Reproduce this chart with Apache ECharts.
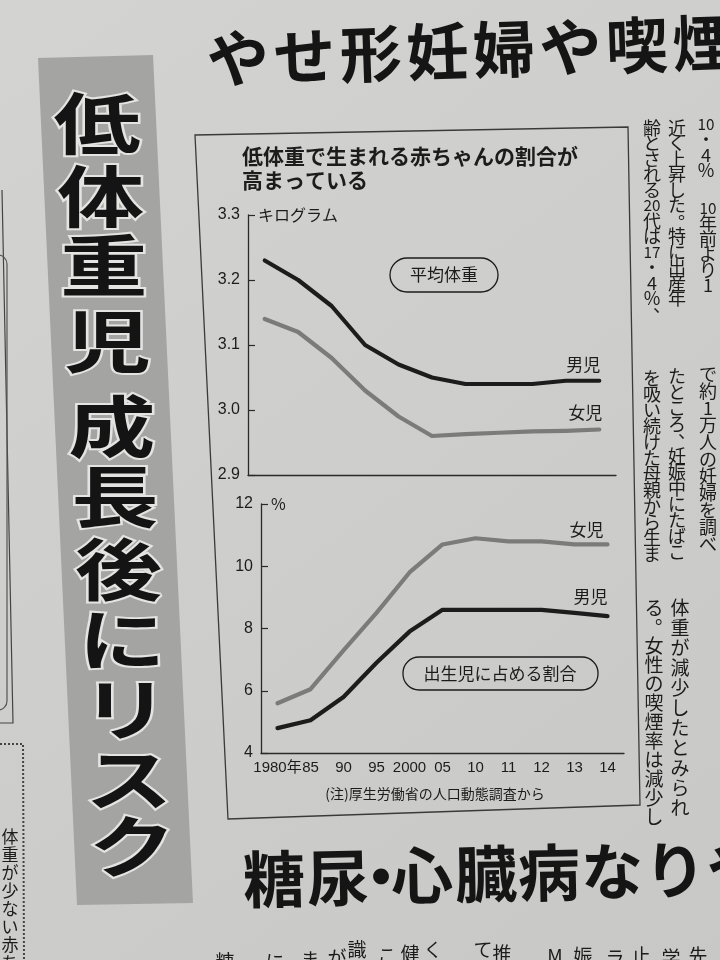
<!DOCTYPE html>
<html><head><meta charset="utf-8">
<script src="https://cdn.jsdelivr.net/npm/echarts@6.0.0/dist/echarts.min.js"></script>
<style>html,body{margin:0;padding:0;background:#cfcfcd}#c{width:720px;height:960px}</style>
</head><body><div id="c"></div>
<script>
// ---- data ----
const categories = ['1980年', '85', '90', '95', '2000', '05', '10', '11', '12', '13', '14'];
const weightBoys  = [3.23, 3.20, 3.16, 3.10, 3.07, 3.05, 3.04, 3.04, 3.04, 3.045, 3.045];
const weightGirls = [3.14, 3.12, 3.08, 3.03, 2.99, 2.96, 2.963, 2.965, 2.967, 2.968, 2.97];
const lbwBoys  = [4.8, 5.05, 5.8, 6.9, 7.9, 8.6, 8.6, 8.6, 8.6, 8.5, 8.4];
const lbwGirls = [5.6, 6.05, 7.3, 8.5, 9.8, 10.7, 10.9, 10.8, 10.8, 10.7, 10.7];
const weightTicks = {min: 2.9, max: 3.3, step: 0.1};
const pctTicks = {min: 4, max: 12, step: 2};
const seriesNames = {boys: '男児', girls: '女児'};

// ---- styling ----
const INK = '#1c1c1c';
const GRAYLINE = '#7b7b79';
const FONT_NUM = "'Liberation Sans Narrow','Liberation Sans','Noto Sans CJK JP',sans-serif";
const FONT_JP = "'Noto Sans CJK JP','Noto Sans',sans-serif";

const chart = echarts.init(document.getElementById('c'), null, {renderer: 'canvas', width: 720, height: 960});

function xAxisCfg(gridIndex, showLabel) {
  return {
    type: 'category', gridIndex, data: categories, boundaryGap: true,
    axisLine: {lineStyle: {color: '#2a2a2a', width: 1.3}},
    axisTick: {inside: true, length: 5, alignWithLabel: true, lineStyle: {color: '#2a2a2a', width: 1.2}},
    axisLabel: {show: showLabel, fontFamily: FONT_NUM, fontSize: 15, color: INK, margin: 7, interval: 0},
    splitLine: {show: false}
  };
}
function yAxisCfg(gridIndex, t, unit, decimals) {
  return {
    type: 'value', gridIndex, min: t.min, max: t.max, interval: t.step,
    name: unit, nameLocation: 'end', nameGap: 0,
    nameTextStyle: {align: 'left', verticalAlign: 'middle', padding: [0, 0, 0, 10], fontFamily: FONT_JP, fontSize: 16, color: INK},
    axisLine: {show: true, lineStyle: {color: '#2a2a2a', width: 1.3}},
    axisTick: {show: true, inside: true, length: 7, lineStyle: {color: '#2a2a2a', width: 1.2}},
    axisLabel: {fontFamily: FONT_NUM, fontSize: 16, color: INK, margin: 8,
      formatter: v => decimals ? v.toFixed(decimals) : String(Math.round(v))},
    splitLine: {show: false}
  };
}
function lineSeries(name, data, xi, color, lab) {
  return {
    name, type: 'line', xAxisIndex: xi, yAxisIndex: xi, data,
    symbol: 'none', smooth: false, z: 3,
    lineStyle: {color, width: 4.2, cap: 'round', join: 'round'},
    endLabel: {show: true, formatter: name, align: 'right', verticalAlign: 'bottom', distance: 0,
      offset: lab, fontFamily: FONT_JP, fontSize: 17, color: INK}
  };
}

// ---- decorative newspaper elements ----
const g = [];
function txt(t, x, y, size, opt) {
  opt = opt || {};
  g.push(Object.assign({type: 'text', x, y, silent: true,
    style: Object.assign({text: t, fontSize: size, fontFamily: FONT_JP, fill: INK, align: 'left', verticalAlign: 'middle'}, opt.style || {})},
    opt.el || {}));
}
function vText(str, cx, y0, pitch, size) {
  const toks = str.match(/[0-9]{2}|./gu);
  let y = y0;
  for (const t of toks) {
    if (t === '　') { y += pitch; continue; }
    let dx = 0, dy = 0, fs = size;
    if (t === '、' || t === '。') { dx = size * 0.55; dy = -size * 0.5; }
    if (/^[0-9]{2}$/.test(t)) fs = size * 0.85;
    txt(t, cx + dx, y + pitch / 2 + dy, fs, {style: {align: 'center'}});
    y += pitch;
  }
}

// top headline
'やせ形妊婦や喫煙'.split('').forEach((c, i) => {
  txt(c, 238 + i * 66.5, 58 - i * 2.2, 62, {style: {align: 'center', fontWeight: 'bold', fill: '#151515'}, el: {rotation: 0.035}});
});

// gray band with vertical headline
g.push({type: 'polygon', silent: true, shape: {points: [[38, 58], [153, 55], [193, 903], [77, 905]]},
  style: {fill: '#a4a4a2'}});
const bandChars = [['低', 124], ['体', 197], ['重', 266], ['児', 342], ['成', 427], ['長', 497], ['後', 570], ['に', 640], ['リ', 710], ['ス', 780], ['ク', 847]];
bandChars.forEach(([c, cy]) => {
  const cx = 97 + (cy - 124) * 0.0485;
  g.push({type: 'text', x: cx, y: cy, scaleX: 1.3, silent: true,
    style: {text: c, fontSize: 67, fontWeight: 'bold', fontFamily: FONT_JP, fill: '#141414',
      stroke: '#e4e4e2', lineWidth: 4, strokeFirst: true, align: 'center', verticalAlign: 'middle'}});
});

// left page fragments
g.push({type: 'polyline', silent: true, shape: {points: [[2, 190], [13, 723], [0, 723]]}, style: {stroke: '#444', lineWidth: 1.2, fill: null}});
g.push({type: 'rect', silent: true, shape: {x: -30, y: 255, width: 37, height: 455, r: 9}, style: {stroke: '#555', lineWidth: 1.2, fill: null}});
g.push({type: 'polyline', silent: true, shape: {points: [[0, 744], [23, 744], [24, 960]]}, style: {stroke: '#444', lineWidth: 2, lineDash: [2, 2], fill: null}});
vText('体重が少ない赤ち', 10, 828, 18, 17);

// chart frame
g.push({type: 'polygon', silent: true, shape: {points: [[195, 135], [628, 127], [640, 805], [228, 819]]},
  style: {stroke: '#3a3a3a', lineWidth: 1.3, fill: null}});

// chart title
txt('低体重で生まれる赤ちゃんの割合が', 242, 156, 21, {style: {fontWeight: 'bold'}});
txt('高まっている', 242, 180, 21, {style: {fontWeight: 'bold'}});

// pill labels
g.push({type: 'rect', silent: true, shape: {x: 390, y: 258, width: 108, height: 34, r: 17}, style: {stroke: INK, lineWidth: 1.3, fill: null}});
txt('平均体重', 444, 275, 17, {style: {align: 'center'}});
g.push({type: 'rect', silent: true, shape: {x: 403, y: 657, width: 195, height: 33, r: 16}, style: {stroke: INK, lineWidth: 1.3, fill: null}});
txt('出生児に占める割合', 500, 674, 17, {style: {align: 'center'}});

// source note
txt('(注)厚生労働省の人口動態調査から', 435, 794, 14, {style: {align: 'center'}});

// bottom headline
[['糖', 274], ['尿', 338], ['・', 381], ['心', 422], ['臓', 486], ['病', 549], ['な', 612], ['り', 675], ['や', 738]].forEach(([c, cx], i) => {
  txt(c, cx, 879 - i * 1.3, 62, {style: {align: 'center', fontWeight: 'bold', fill: '#151515'}, el: {rotation: 0.02}});
});

// bottom row: tops of the next text columns
[['糖', 225, 962], ['に', 275, 962], ['ま', 310, 960], ['が', 337, 958], ['識', 357, 950], ['こ', 387, 956], ['健', 410, 954],
 ['く', 433, 950], ['て', 483, 950], ['推', 502, 954], ['M', 555, 956], ['娠', 583, 956], ['ラ', 615, 958], ['止', 641, 956],
 ['学', 671, 958], ['先', 698, 956]].forEach(([c, x, y]) => txt(c, x, y, 19, {style: {align: 'center'}}));

// right column body text (vertical)
vText('齢とされる20代は17・4%、', 652, 120, 15.5, 18);
vText('近く上昇した。特に出産年', 677, 120, 15.5, 18);
vText('10・4%', 706, 116, 15.5, 18);
vText('10年前より1', 708, 200, 15.5, 18);
vText('を吸い続けた母親から生ま', 652, 370, 16, 18);
vText('たところ、妊娠中にたばこ', 677, 368, 16, 18);
vText('で約1万人の妊婦を調べ', 708, 366, 17, 18);
vText('る。女性の喫煙率は減少し', 654, 598, 19, 19);
vText('体重が減少したとみられ', 680, 598, 20, 19);

const option = {
  backgroundColor: {type: 'linear', x: 0, y: 0, x2: 1, y2: 1,
    colorStops: [{offset: 0, color: '#d3d3d1'}, {offset: 1, color: '#c8c8c6'}]},
  animation: false,
  grid: [
    {left: 248, right: 104, top: 215, height: 260},
    {left: 261, right: 96, top: 504, height: 249}
  ],
  xAxis: [xAxisCfg(0, false), xAxisCfg(1, true)],
  yAxis: [yAxisCfg(0, weightTicks, 'キログラム', 1), yAxisCfg(1, pctTicks, '%', 0)],
  series: [
    lineSeries(seriesNames.boys, weightBoys, 0, INK, [1, -8]),
    lineSeries(seriesNames.girls, weightGirls, 0, GRAYLINE, [3, -8]),
    lineSeries(seriesNames.girls, lbwGirls, 1, GRAYLINE, [-4, -6]),
    lineSeries(seriesNames.boys, lbwBoys, 1, INK, [0, -11])
  ],
  graphic: {elements: g}
};
chart.setOption(option);
</script>
</body></html>
